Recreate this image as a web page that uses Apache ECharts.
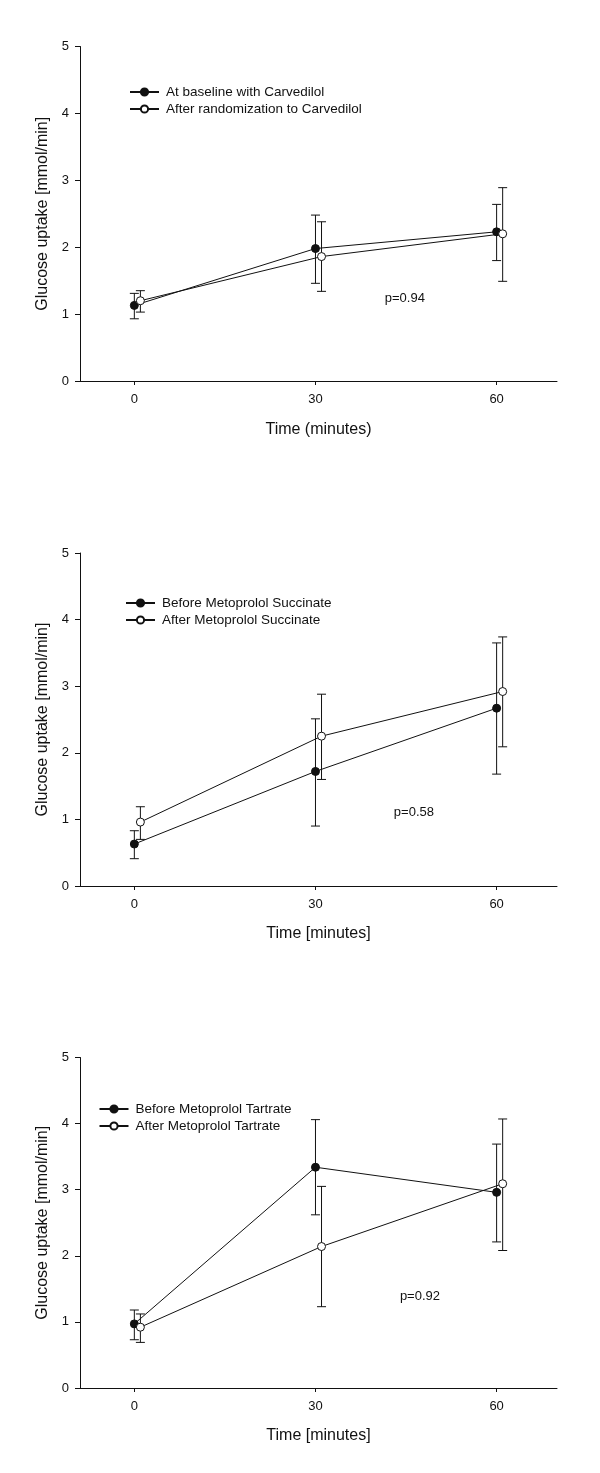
<!DOCTYPE html>
<html>
<head>
<meta charset="utf-8">
<script src="https://cdn.jsdelivr.net/npm/echarts@6/dist/echarts.min.js"></script>
<style>
  html, body { margin: 0; padding: 0; background: #fff; }
  #chart { width: 600px; height: 1473px; }
</style>
</head>
<body>
<div id="chart"></div>
<script>
// ---------- data ----------
const timesA = [0, 30, 60];
const timesB = [1, 31, 61];
const xTickValues = [0, 30, 60];
const yTickValues = [0, 1, 2, 3, 4, 5];

// Panel 1 (Carvedilol)
const p1Names = ['At baseline with Carvedilol', 'After randomization to Carvedilol'];
const p1MeanA = [1.13, 1.98, 2.23];
const p1LowA  = [0.93, 1.46, 1.80];
const p1HighA = [1.31, 2.48, 2.64];
const p1MeanB = [1.20, 1.86, 2.20];
const p1LowB  = [1.03, 1.34, 1.49];
const p1HighB = [1.35, 2.38, 2.89];
const p1PText = 'p=0.94';
const p1PPos  = [44.8, 1.24];
const p1XTitle = 'Time (minutes)';

// Panel 2 (Metoprolol Succinate)
const p2Names = ['Before Metoprolol Succinate', 'After Metoprolol Succinate'];
const p2MeanA = [0.63, 1.72, 2.67];
const p2LowA  = [0.41, 0.90, 1.68];
const p2HighA = [0.83, 2.51, 3.65];
const p2MeanB = [0.96, 2.25, 2.92];
const p2LowB  = [0.70, 1.60, 2.09];
const p2HighB = [1.19, 2.88, 3.74];
const p2PText = 'p=0.58';
const p2PPos  = [46.3, 1.11];
const p2XTitle = 'Time [minutes]';

// Panel 3 (Metoprolol Tartrate)
const p3Names = ['Before Metoprolol Tartrate', 'After Metoprolol Tartrate'];
const p3MeanA = [0.97, 3.34, 2.96];
const p3LowA  = [0.73, 2.62, 2.21];
const p3HighA = [1.18, 4.06, 3.69];
const p3MeanB = [0.92, 2.14, 3.09];
const p3LowB  = [0.69, 1.23, 2.08];
const p3HighB = [1.12, 3.05, 4.07];
const p3PText = 'p=0.92';
const p3PPos  = [47.3, 1.38];
const p3XTitle = 'Time [minutes]';

const yTitle = 'Glucose uptake [mmol/min]';

// ---------- build ----------
const FONT = '"Liberation Sans", Arial, Helvetica, sans-serif';
const INK = '#111';

const panels = [
  { names: p1Names, mA: p1MeanA, lA: p1LowA, hA: p1HighA, mB: p1MeanB, lB: p1LowB, hB: p1HighB,
    pText: p1PText, pPos: p1PPos, xTitle: p1XTitle,
    grid: { top: 46.5, height: 334.5 }, xGap: 41, legend: { left: 129, top: 85 } },
  { names: p2Names, mA: p2MeanA, lA: p2LowA, hA: p2HighA, mB: p2MeanB, lB: p2LowB, hB: p2HighB,
    pText: p2PText, pPos: p2PPos, xTitle: p2XTitle,
    grid: { top: 553, height: 333 }, xGap: 40, legend: { left: 125, top: 596 } },
  { names: p3Names, mA: p3MeanA, lA: p3LowA, hA: p3HighA, mB: p3MeanB, lB: p3LowB, hB: p3HighB,
    pText: p3PText, pPos: p3PPos, xTitle: p3XTitle,
    grid: { top: 1057.5, height: 330.5 }, xGap: 40, legend: { left: 98.5, top: 1102 } }
];

function errRender(params, api) {
  const x = api.value(0);
  const lo = api.coord([x, api.value(1)]);
  const hi = api.coord([x, api.value(2)]);
  const cw = 4.5;
  const style = { stroke: INK, lineWidth: 1 };
  return {
    type: 'group',
    children: [
      { type: 'line', shape: { x1: lo[0], y1: lo[1], x2: hi[0], y2: hi[1] }, style: style },
      { type: 'line', shape: { x1: lo[0] - cw, y1: lo[1], x2: lo[0] + cw, y2: lo[1] }, style: style },
      { type: 'line', shape: { x1: hi[0] - cw, y1: hi[1], x2: hi[0] + cw, y2: hi[1] }, style: style }
    ]
  };
}

const grids = [], xAxes = [], yAxes = [], series = [], legends = [];

panels.forEach((p, i) => {
  grids.push({ left: 80, right: 43, top: p.grid.top, height: p.grid.height, containLabel: false });
  xAxes.push({
    type: 'value', gridIndex: i, min: -9, max: 70,
    name: p.xTitle, nameLocation: 'middle', nameGap: p.xGap,
    nameTextStyle: { fontFamily: FONT, fontSize: 16, color: INK },
    axisLine: { show: true, onZero: false, lineStyle: { color: INK, width: 1 } },
    axisTick: { show: true, inside: false, length: 4, customValues: xTickValues, lineStyle: { color: INK } },
    axisLabel: { customValues: xTickValues, margin: 12, fontFamily: FONT, fontSize: 13, color: INK },
    splitLine: { show: false }
  });
  yAxes.push({
    type: 'value', gridIndex: i, min: 0, max: 5, interval: 1,
    name: yTitle, nameLocation: 'middle', nameGap: 28,
    nameTextStyle: { fontFamily: FONT, fontSize: 16, color: INK },
    axisLine: { show: true, onZero: false, lineStyle: { color: INK, width: 1 } },
    axisTick: { show: true, inside: false, length: 5, lineStyle: { color: INK } },
    axisLabel: { margin: 11, fontFamily: FONT, fontSize: 13, color: INK },
    splitLine: { show: false }
  });

  const zip = (xs, a, b) => xs.map((x, k) => b ? [x, a[k], b[k]] : [x, a[k]]);

  series.push({
    type: 'custom', xAxisIndex: i, yAxisIndex: i, z: 1, silent: true,
    renderItem: errRender, data: zip(timesA, p.lA, p.hA)
  });
  series.push({
    type: 'custom', xAxisIndex: i, yAxisIndex: i, z: 1, silent: true,
    renderItem: errRender, data: zip(timesB, p.lB, p.hB)
  });
  series.push({
    name: p.names[0], type: 'line', xAxisIndex: i, yAxisIndex: i, z: 3,
    data: zip(timesA, p.mA), symbol: 'circle', symbolSize: 8, showAllSymbol: true,
    lineStyle: { color: INK, width: 1 },
    itemStyle: { color: INK, borderColor: INK, borderWidth: 1 },
    emphasis: { disabled: true }, animation: false
  });
  series.push({
    name: p.names[1], type: 'line', xAxisIndex: i, yAxisIndex: i, z: 4,
    data: zip(timesB, p.mB), symbol: 'circle', symbolSize: 8, showAllSymbol: true,
    lineStyle: { color: INK, width: 1 },
    itemStyle: { color: '#fff', borderColor: INK, borderWidth: 1 },
    emphasis: { disabled: true }, animation: false
  });
  // p-value annotation, positioned in data units
  series.push({
    type: 'scatter', xAxisIndex: i, yAxisIndex: i, z: 5, silent: true,
    data: [p.pPos], symbolSize: 0,
    itemStyle: { opacity: 1, color: INK },
    label: { show: true, position: 'inside', formatter: p.pText,
             fontFamily: FONT, fontSize: 13, color: INK }
  });
  legends.push({
    data: p.names, orient: 'vertical', left: p.legend.left, top: p.legend.top,
    itemWidth: 29, itemHeight: 9, itemGap: 3, padding: 0,
    textStyle: { fontFamily: FONT, fontSize: 13.5, color: INK, lineHeight: 14, padding: [0, 0, 0, 2] },
    selectedMode: false
  });
});

const chart = echarts.init(document.getElementById('chart'), null, { renderer: 'canvas' });
chart.setOption({
  animation: false,
  backgroundColor: '#fff',
  grid: grids, xAxis: xAxes, yAxis: yAxes, series: series, legend: legends
});
</script>
</body>
</html>
